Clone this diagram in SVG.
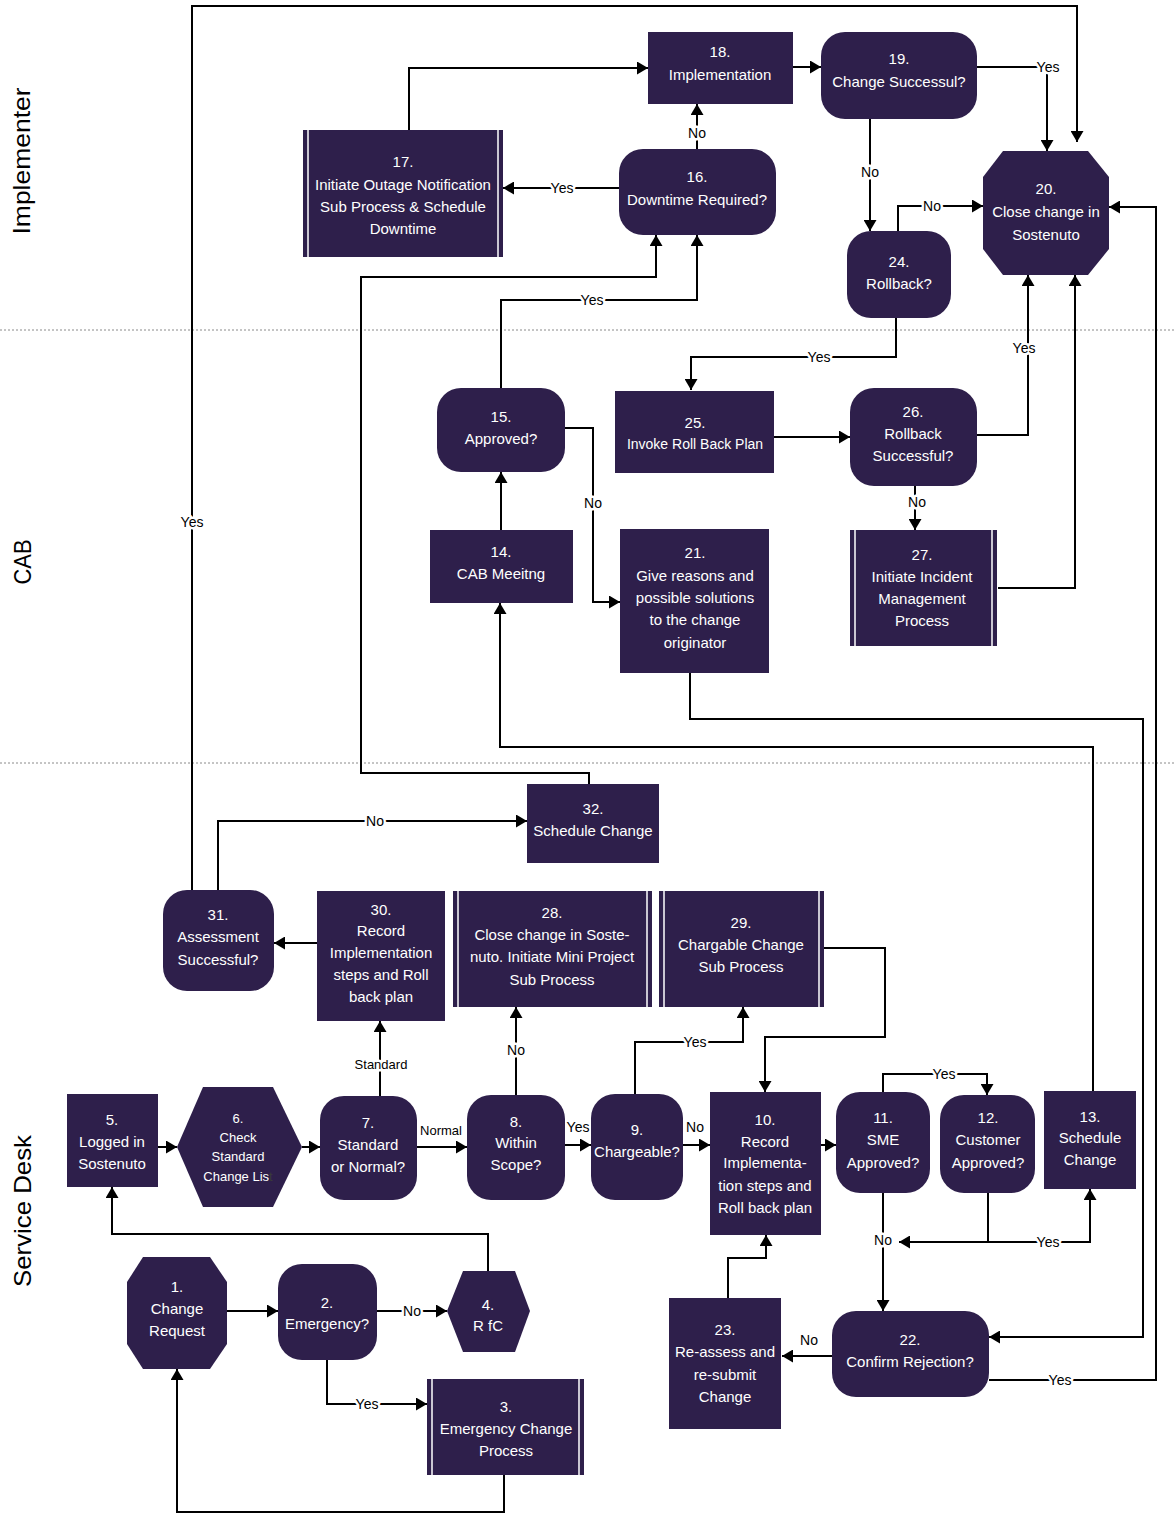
<svg xmlns="http://www.w3.org/2000/svg" width="1176" height="1514" viewBox="0 0 1176 1514">
<style>
.n{fill:#2e1f4b}
.sp{stroke:#ffffff;stroke-width:1.5}
.t{fill:#ffffff;font-family:"Liberation Sans",Arial,sans-serif;font-size:15px;text-anchor:middle}
.c{fill:none;stroke:#000;stroke-width:2}
.l{fill:#000;font-family:"Liberation Sans",Arial,sans-serif;font-size:14px;text-anchor:middle;stroke:#fff;stroke-width:5px;paint-order:stroke;stroke-linejoin:round}
.lane{fill:#000;font-family:"Liberation Sans",Arial,sans-serif;font-size:24px;text-anchor:middle}
.sep{stroke:#8a8a8a;stroke-width:1;stroke-dasharray:2 2}
</style>
<defs>
<marker id="a" viewBox="0 0 11 13" refX="11" refY="6.5" markerWidth="11" markerHeight="13" orient="auto" markerUnits="userSpaceOnUse"><path d="M0,0 L11,6.5 L0,13 z" fill="#000"/></marker>
</defs>
<rect width="1176" height="1514" fill="#fff"/>
<g id="lanes">
<line class="sep" x1="0" y1="330" x2="1176" y2="330"/>
<line class="sep" x1="0" y1="763" x2="1176" y2="763"/>
<text class="lane" transform="translate(30,161) rotate(-90)" textLength="147" lengthAdjust="spacingAndGlyphs">Implementer</text>
<text class="lane" transform="translate(31,562) rotate(-90)" textLength="45" lengthAdjust="spacingAndGlyphs">CAB</text>
<text class="lane" transform="translate(31,1211) rotate(-90)" textLength="152" lengthAdjust="spacingAndGlyphs">Service Desk</text>
</g>
<g id="connectors">
<path class="c" marker-end="url(#a)" d="M227,1311 H278"/>
<path class="c" marker-end="url(#a)" d="M377,1311 H447"/>
<path class="c" marker-end="url(#a)" d="M327,1360 V1404 H427"/>
<path class="c" marker-end="url(#a)" d="M504,1475 V1512 H177 V1369"/>
<path class="c" marker-end="url(#a)" d="M488,1271 V1234 H112 V1187"/>
<path class="c" marker-end="url(#a)" d="M158,1147 H177"/>
<path class="c" marker-end="url(#a)" d="M302,1147 H320"/>
<path class="c" marker-end="url(#a)" d="M417,1147 H467"/>
<path class="c" marker-end="url(#a)" d="M380,1096 V1021"/>
<path class="c" marker-end="url(#a)" d="M516,1095 V1007"/>
<path class="c" marker-end="url(#a)" d="M565,1145 H591"/>
<path class="c" marker-end="url(#a)" d="M683,1145 H710"/>
<path class="c" marker-end="url(#a)" d="M635,1094 V1042 H743 V1007"/>
<path class="c" marker-end="url(#a)" d="M824,948 H885 V1037 H765 V1092"/>
<path class="c" marker-end="url(#a)" d="M821,1145 H836"/>
<path class="c" marker-end="url(#a)" d="M883,1092 V1074 H987 V1095"/>
<path class="c" marker-end="url(#a)" d="M883,1193 V1311"/>
<path class="c" marker-end="url(#a)" d="M988,1193 V1242 H899"/>
<path class="c" marker-end="url(#a)" d="M988,1242 H1090 V1189"/>
<path class="c" marker-end="url(#a)" d="M1093,1091 V747 H500 V603"/>
<path class="c" marker-end="url(#a)" d="M501,530 V472"/>
<path class="c" marker-end="url(#a)" d="M501,388 V300 H697 V235"/>
<path class="c" marker-end="url(#a)" d="M565,428 H593 V602 H620"/>
<path class="c" marker-end="url(#a)" d="M690,673 V719 H1143 V1337 H989"/>
<path class="c" marker-end="url(#a)" d="M832,1356 H782"/>
<path class="c" marker-end="url(#a)" d="M989,1380 H1156 V207 H1109"/>
<path class="c" marker-end="url(#a)" d="M728,1298 V1258 H766 V1235"/>
<path class="c" marker-end="url(#a)" d="M619,188 H503"/>
<path class="c" marker-end="url(#a)" d="M697,149 V104"/>
<path class="c" marker-end="url(#a)" d="M409,130 V68 H648"/>
<path class="c" marker-end="url(#a)" d="M793,67 H821"/>
<path class="c" marker-end="url(#a)" d="M977,67 H1047 V151"/>
<path class="c" marker-end="url(#a)" d="M870,119 V231"/>
<path class="c" marker-end="url(#a)" d="M898,231 V206 H983"/>
<path class="c" marker-end="url(#a)" d="M896,318 V357 H691 V390"/>
<path class="c" marker-end="url(#a)" d="M774,437 H850"/>
<path class="c" marker-end="url(#a)" d="M977,435 H1028 V275"/>
<path class="c" marker-end="url(#a)" d="M915,486 V530"/>
<path class="c" marker-end="url(#a)" d="M998,588 H1075 V275"/>
<path class="c" marker-end="url(#a)" d="M192,890 V6 H1077 V142"/>
<path class="c" marker-end="url(#a)" d="M218,890 V821 H527"/>
<path class="c" marker-end="url(#a)" d="M317,943 H274"/>
<path class="c" marker-end="url(#a)" d="M589,784 V773 H361 V277 H656 V235"/>
<text class="l" x="412" y="1316">No</text>
<text class="l" x="367" y="1409">Yes</text>
<text class="l" x="441" y="1135" style="font-size:13px">Normal</text>
<text class="l" x="381" y="1069" style="font-size:13px">Standard</text>
<text class="l" x="516" y="1055">No</text>
<text class="l" x="578" y="1132">Yes</text>
<text class="l" x="695" y="1132">No</text>
<text class="l" x="695" y="1047">Yes</text>
<text class="l" x="944" y="1079">Yes</text>
<text class="l" x="883" y="1245">No</text>
<text class="l" x="1048" y="1247">Yes</text>
<text class="l" x="809" y="1345">No</text>
<text class="l" x="1060" y="1385">Yes</text>
<text class="l" x="592" y="305">Yes</text>
<text class="l" x="593" y="508">No</text>
<text class="l" x="562" y="193">Yes</text>
<text class="l" x="697" y="138">No</text>
<text class="l" x="1048" y="72">Yes</text>
<text class="l" x="870" y="177">No</text>
<text class="l" x="932" y="211">No</text>
<text class="l" x="819" y="362">Yes</text>
<text class="l" x="1024" y="353">Yes</text>
<text class="l" x="917" y="507">No</text>
<text class="l" x="192" y="527">Yes</text>
<text class="l" x="375" y="826">No</text>
</g>
<g id="n1"><polygon class="n" points="143,1257 210,1257 227,1282 227,1344 210,1369 143,1369 127,1344 127,1282"/>
<text class="t" x="177" y="1292">1.</text><text class="t" x="177" y="1314">Change</text><text class="t" x="177" y="1336">Request</text></g>
<g id="n2"><rect class="n" x="278" y="1264" width="99" height="96" rx="24"/>
<text class="t" x="327" y="1308">2.</text><text class="t" x="327" y="1329">Emergency?</text></g>
<g id="n3"><rect class="n" x="427" y="1379" width="157" height="96"/><line class="sp" x1="432" y1="1379" x2="432" y2="1475"/><line class="sp" x1="579" y1="1379" x2="579" y2="1475"/>
<text class="t" x="506" y="1412">3.</text><text class="t" x="506" y="1434">Emergency Change</text><text class="t" x="506" y="1456">Process</text></g>
<g id="n4"><polygon class="n" points="447,1311 463,1271 515,1271 530,1311 515,1352 463,1352"/>
<text class="t" x="488" y="1310">4.</text><text class="t" x="488" y="1331">R fC</text></g>
<g id="n5"><rect class="n" x="67" y="1094" width="91" height="93"/>
<text class="t" x="112" y="1125">5.</text><text class="t" x="112" y="1147">Logged in</text><text class="t" x="112" y="1169">Sostenuto</text></g>
<g id="n6"><polygon class="n" points="177,1147 203,1087 273,1087 302,1147 273,1207 203,1207"/>
<text class="t" x="238" y="1123" style="font-size:13px">6.</text><text class="t" x="238" y="1142" style="font-size:13px">Check</text><text class="t" x="238" y="1161" style="font-size:13px">Standard</text><text class="t" x="238" y="1181" style="font-size:13px">Change Lis<tspan fill="#3a3a3a">t</tspan></text></g>
<g id="n7"><rect class="n" x="320" y="1096" width="97" height="104" rx="24"/>
<text class="t" x="368" y="1128">7.</text><text class="t" x="368" y="1150">Standard</text><text class="t" x="368" y="1172">or Normal?</text></g>
<g id="n8"><rect class="n" x="467" y="1095" width="98" height="105" rx="24"/>
<text class="t" x="516" y="1127">8.</text><text class="t" x="516" y="1148">Within</text><text class="t" x="516" y="1170">Scope?</text></g>
<g id="n9"><rect class="n" x="591" y="1094" width="92" height="106" rx="24"/>
<text class="t" x="637" y="1135">9.</text><text class="t" x="637" y="1157">Chargeable?</text></g>
<g id="n10"><rect class="n" x="710" y="1092" width="111" height="143"/>
<text class="t" x="765" y="1125">10.</text><text class="t" x="765" y="1147">Record</text><text class="t" x="765" y="1168">Implementa-</text><text class="t" x="765" y="1191">tion steps and</text><text class="t" x="765" y="1213">Roll back plan</text></g>
<g id="n11"><rect class="n" x="836" y="1092" width="94" height="101" rx="24"/>
<text class="t" x="883" y="1123">11.</text><text class="t" x="883" y="1145">SME</text><text class="t" x="883" y="1168">Approved?</text></g>
<g id="n12"><rect class="n" x="940" y="1095" width="95" height="98" rx="24"/>
<text class="t" x="988" y="1123">12.</text><text class="t" x="988" y="1145">Customer</text><text class="t" x="988" y="1168">Approved?</text></g>
<g id="n13"><rect class="n" x="1044" y="1091" width="92" height="98"/>
<text class="t" x="1090" y="1122">13.</text><text class="t" x="1090" y="1143">Schedule</text><text class="t" x="1090" y="1165">Change</text></g>
<g id="n14"><rect class="n" x="430" y="530" width="143" height="73"/>
<text class="t" x="501" y="557">14.</text><text class="t" x="501" y="579">CAB Meeitng</text></g>
<g id="n15"><rect class="n" x="437" y="388" width="128" height="84" rx="24"/>
<text class="t" x="501" y="422">15.</text><text class="t" x="501" y="444">Approved?</text></g>
<g id="n16"><rect class="n" x="619" y="149" width="157" height="86" rx="24"/>
<text class="t" x="697" y="182">16.</text><text class="t" x="697" y="205">Downtime Required?</text></g>
<g id="n17"><rect class="n" x="303" y="130" width="200" height="127"/><line class="sp" x1="308" y1="130" x2="308" y2="257"/><line class="sp" x1="498" y1="130" x2="498" y2="257"/>
<text class="t" x="403" y="167">17.</text><text class="t" x="403" y="190">Initiate Outage Notification</text><text class="t" x="403" y="212">Sub Process &amp; Schedule</text><text class="t" x="403" y="234">Downtime</text></g>
<g id="n18"><rect class="n" x="648" y="32" width="145" height="72"/>
<text class="t" x="720" y="57">18.</text><text class="t" x="720" y="80">Implementation</text></g>
<g id="n19"><rect class="n" x="821" y="32" width="156" height="87" rx="24"/>
<text class="t" x="899" y="64">19.</text><text class="t" x="899" y="87">Change Successul?</text></g>
<g id="n20"><polygon class="n" points="1003,151 1088,151 1109,177 1109,249 1088,275 1003,275 983,249 983,177"/>
<text class="t" x="1046" y="194">20.</text><text class="t" x="1046" y="217">Close change in</text><text class="t" x="1046" y="240">Sostenuto</text></g>
<g id="n21"><rect class="n" x="620" y="529" width="149" height="144"/>
<text class="t" x="695" y="558">21.</text><text class="t" x="695" y="581">Give reasons and</text><text class="t" x="695" y="603">possible solutions</text><text class="t" x="695" y="625">to the change</text><text class="t" x="695" y="648">originator</text></g>
<g id="n22"><rect class="n" x="832" y="1311" width="157" height="86" rx="24"/>
<text class="t" x="910" y="1345">22.</text><text class="t" x="910" y="1367">Confirm Rejection?</text></g>
<g id="n23"><rect class="n" x="669" y="1298" width="112" height="131"/>
<text class="t" x="725" y="1335">23.</text><text class="t" x="725" y="1357">Re-assess and</text><text class="t" x="725" y="1380">re-submit</text><text class="t" x="725" y="1402">Change</text></g>
<g id="n24"><rect class="n" x="847" y="231" width="104" height="87" rx="24"/>
<text class="t" x="899" y="267">24.</text><text class="t" x="899" y="289">Rollback?</text></g>
<g id="n25"><rect class="n" x="615" y="391" width="159" height="82"/>
<text class="t" x="695" y="428">25.</text><text class="t" x="695" y="449" style="font-size:14px">Invoke Roll Back Plan</text></g>
<g id="n26"><rect class="n" x="850" y="388" width="127" height="98" rx="24"/>
<text class="t" x="913" y="417">26.</text><text class="t" x="913" y="439">Rollback</text><text class="t" x="913" y="461">Successful?</text></g>
<g id="n27"><rect class="n" x="850" y="530" width="147" height="116"/><line class="sp" x1="855" y1="530" x2="855" y2="646"/><line class="sp" x1="992" y1="530" x2="992" y2="646"/>
<text class="t" x="922" y="560">27.</text><text class="t" x="922" y="582">Initiate Incident</text><text class="t" x="922" y="604">Management</text><text class="t" x="922" y="626">Process</text></g>
<g id="n28"><rect class="n" x="453" y="891" width="199" height="116"/><line class="sp" x1="458" y1="891" x2="458" y2="1007"/><line class="sp" x1="647" y1="891" x2="647" y2="1007"/>
<text class="t" x="552" y="918">28.</text><text class="t" x="552" y="940">Close change in Soste-</text><text class="t" x="552" y="962">nuto. Initiate Mini Project</text><text class="t" x="552" y="985">Sub Process</text></g>
<g id="n29"><rect class="n" x="659" y="891" width="165" height="116"/><line class="sp" x1="664" y1="891" x2="664" y2="1007"/><line class="sp" x1="819" y1="891" x2="819" y2="1007"/>
<text class="t" x="741" y="928">29.</text><text class="t" x="741" y="950">Chargable Change</text><text class="t" x="741" y="972">Sub Process</text></g>
<g id="n30"><rect class="n" x="317" y="891" width="128" height="130"/>
<text class="t" x="381" y="915">30.</text><text class="t" x="381" y="936">Record</text><text class="t" x="381" y="958">Implementation</text><text class="t" x="381" y="980">steps and Roll</text><text class="t" x="381" y="1002">back plan</text></g>
<g id="n31"><rect class="n" x="163" y="890" width="111" height="101" rx="24"/>
<text class="t" x="218" y="920">31.</text><text class="t" x="218" y="942">Assessment</text><text class="t" x="218" y="965">Successful?</text></g>
<g id="n32"><rect class="n" x="527" y="784" width="132" height="79"/>
<text class="t" x="593" y="814">32.</text><text class="t" x="593" y="836">Schedule Change</text></g>
</svg>
